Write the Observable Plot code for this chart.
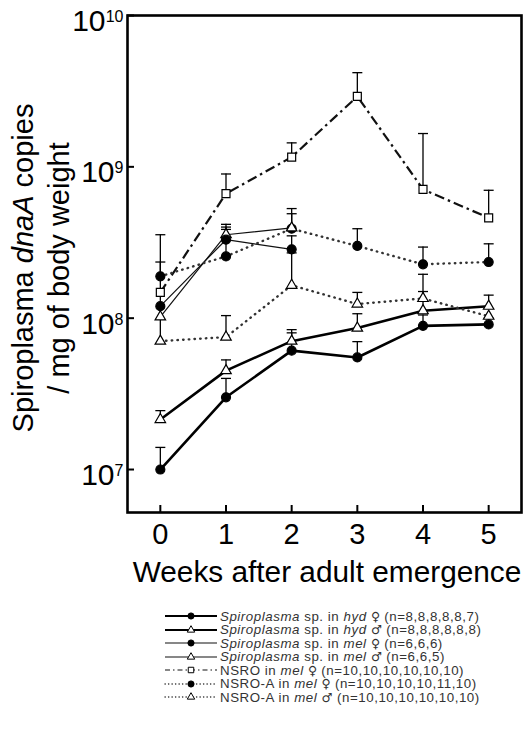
<!DOCTYPE html>
<html><head><meta charset="utf-8">
<script src="https://cdn.jsdelivr.net/npm/d3@7"></script>
<script src="https://cdn.jsdelivr.net/npm/@observablehq/plot@0.6"></script>
<style>
body{margin:0;background:#fff;font-family:"Liberation Sans",Arial,sans-serif;}
#wrap{position:relative;width:524px;height:747px;overflow:hidden;}
#chart svg{display:block;}
#legend{position:absolute;left:0;top:600px;width:524px;height:147px;}
.row{position:absolute;left:163px;height:14px;display:flex;align-items:center;font-size:13.3px;letter-spacing:0.55px;color:#333;white-space:nowrap;}
.row svg{display:block;margin-right:1px;}
.sx{font-family:"DejaVu Sans",sans-serif;font-size:12.5px;letter-spacing:0;}
</style></head><body><div id="wrap"><div id="chart"></div><div id="legend"></div></div>
<script>
// ---- data ----
const weeks = [0, 1, 2, 3, 4, 5];
const tickExps = [7, 8, 9, 10];
const yMin = 5.2e6, yMax = 1e10;

const hydF    = [1.0e7, 3.0e7, 6.1e7, 5.5e7, 8.9e7, 9.1e7];
const hydFErr = [1.4e7, 4.0e7, 8.0e7, 7.0e7, 1.05e8, 1.0e8];
const hydM    = [2.14e7, 4.5e7, 7.05e7, 8.6e7, 1.12e8, 1.2e8];
const hydMErr = [2.45e7, 5.3e7, 8.4e7, 1.07e8, 1.5e8, 1.42e8];
const melF    = [1.2e8, 3.3e8, 2.85e8];
const melFErr = [null, 4.0e8, 3.5e8];
const melM    = [1.02e8, 3.56e8, 3.95e8];
const melMErr = [null, 4.17e8, 4.9e8];
const nsro    = [1.48e8, 6.65e8, 1.16e9, 2.92e9, 7.1e8, 4.6e8];
const nsroErr = [null, 8.97e8, 1.44e9, 4.19e9, 1.66e9, 7.0e8];
const nsroAF    = [1.89e8, 2.56e8, 3.9e8, 3.0e8, 2.27e8, 2.35e8];
const nsroAFErr = [3.56e8, 3.86e8, 5.3e8, 3.9e8, 2.95e8, 3.1e8];
const nsroAM    = [7.05e7, 7.5e7, 1.65e8, 1.24e8, 1.35e8, 1.03e8];
const nsroAMErr = [2.35e8, 1.04e8, 2.7e8, 1.48e8, 1.95e8, null];

const legendLabels = [
  '<i>Spiroplasma</i> sp. in <i>hyd</i> <span class="sx">♀</span> (n=8,8,8,8,8,7)',
  '<i>Spiroplasma</i> sp. in <i>hyd</i> <span class="sx">♂</span> (n=8,8,8,8,8,8)',
  '<i>Spiroplasma</i> sp. in <i>mel</i> <span class="sx">♀</span> (n=6,6,6)',
  '<i>Spiroplasma</i> sp. in <i>mel</i> <span class="sx">♂</span> (n=6,6,5)',
  'NSRO in <i>mel</i> <span class="sx">♀</span> (n=10,10,10,10,10,10)',
  'NSRO-A in <i>mel</i> <span class="sx">♀</span> (n=10,10,10,10,11,10)',
  'NSRO-A in <i>mel</i> <span class="sx">♂</span> (n=10,10,10,10,10,10)'
];

// ---- styles ----
const series = [
  {key:"hydF", v:hydF, e:hydFErr, stroke:"#000", sw:2.6, dash:null, cap:"butt", sym:"circle", fill:"#000", lsw:2.2},
  {key:"hydM", v:hydM, e:hydMErr, stroke:"#000", sw:2.6, dash:null, cap:"butt", sym:"triangle", fill:"#fff", lsw:2.2},
  {key:"melF", v:melF, e:melFErr, stroke:"#111", sw:1.2, dash:null, cap:"butt", sym:"circle", fill:"#000", lsw:1.1},
  {key:"melM", v:melM, e:melMErr, stroke:"#111", sw:1.2, dash:null, cap:"butt", sym:"triangle", fill:"#fff", lsw:1.1},
  {key:"nsro", v:nsro, e:nsroErr, stroke:"#111", sw:2.2, dash:"10,4,2.5,4", cap:"butt", sym:"square", fill:"#fff", lsw:1.1, ldash:"5,3,1.5,3"},
  {key:"nsroAF", v:nsroAF, e:nsroAFErr, stroke:"#333", sw:2.4, dash:"0.5,5.2", cap:"round", sym:"circle", fill:"#000", lsw:1.3, ldash:"0.3,3.2"},
  {key:"nsroAM", v:nsroAM, e:nsroAMErr, stroke:"#333", sw:2.4, dash:"0.5,5.2", cap:"round", sym:"triangle", fill:"#fff", lsw:1.3, ldash:"0.3,3.2"}
];
const symR = {circle: 4.5, triangle: 3.9, square: 4.5};

const rowsOf = s => s.v.map((v, i) => ({week: weeks[i], v, e: s.e[i]}));
const capSymbol = {draw(ctx) { ctx.moveTo(-5, 0); ctx.lineTo(5, 0); }};

const lineMarks = series.map(s => Plot.line(rowsOf(s), {
  x: "week", y: "v", stroke: s.stroke, strokeWidth: s.sw,
  strokeDasharray: s.dash, strokeLinecap: s.cap
}));
const allRows = series.flatMap(s => rowsOf(s)).filter(d => d.e != null);
const errMarks = [
  Plot.ruleX(allRows, {x: "week", y1: "v", y2: "e", stroke: "#000", strokeWidth: 1.3}),
  Plot.dot(allRows, {x: "week", y: "e", symbol: capSymbol, r: 3, fill: "none", stroke: "#000", strokeWidth: 1.3})
];
const dotMarks = series.slice().reverse().map(s => Plot.dot(rowsOf(s), {
  x: "week", y: "v", symbol: s.sym, r: symR[s.sym],
  fill: s.fill, stroke: "#000", strokeWidth: 1.2
}));

const chart = Plot.plot({
  width: 524, height: 600,
  marginLeft: 127, marginRight: 3, marginTop: 15, marginBottom: 88,
  style: {fontFamily: '"Liberation Sans", Arial, sans-serif', color: "#000", background: "#fff", overflow: "visible"},
  x: {domain: [-0.5, 5.5]},
  y: {type: "log", domain: [yMin, yMax]},
  marks: [
    ...lineMarks,
    ...errMarks,
    ...dotMarks,
    Plot.axisX(weeks, {tickSize: -7, strokeWidth: 2, tickFormat: () => "", label: null}),
    Plot.axisX(weeks, {tickSize: 0, tickPadding: 11, fontSize: 29, label: null}),
    Plot.axisY(tickExps.map(e => 10 ** e), {tickSize: -7, strokeWidth: 2, tickFormat: () => "", label: null}),
    Plot.text(tickExps.filter(e => e < 10), {y: e => 10 ** e, frameAnchor: "left", text: () => "10", textAnchor: "end", dx: -13, dy: 6, fontSize: 30}),
    Plot.text(tickExps.filter(e => e >= 10), {y: e => 10 ** e, frameAnchor: "left", text: () => "10", textAnchor: "end", dx: -22, dy: 6, fontSize: 30}),
    Plot.text(tickExps, {y: e => 10 ** e, frameAnchor: "left", text: e => String(e), textAnchor: "end", dx: -4, dy: 1.5, fontSize: 16}),
    Plot.frame({stroke: "#000", strokeWidth: 2.6})
  ]
});
document.getElementById("chart").appendChild(chart);

// axis titles
const svg = d3.select(chart);
svg.append("text").attr("x", 327).attr("y", 582).attr("text-anchor", "middle")
  .attr("font-size", 29.8).attr("fill", "#000").text("Weeks after adult emergence");
const yl1 = svg.append("text").attr("transform", "translate(33,268) rotate(-90)")
  .attr("text-anchor", "middle").attr("font-size", 29).attr("fill", "#000");
yl1.append("tspan").text("Spiroplasma ");
yl1.append("tspan").attr("font-style", "italic").text("dnaA");
yl1.append("tspan").text(" copies");
svg.append("text").attr("transform", "translate(69,268) rotate(-90)")
  .attr("text-anchor", "middle").attr("font-size", 29).attr("fill", "#000")
  .text("/ mg of body weight");

// legend
const legend = d3.select("#legend");
series.forEach((s, i) => {
  const row = legend.append("div").attr("class", "row").style("top", (16 + 13.5 * i - 7) + "px");
  const ls = row.append("svg").attr("width", 56).attr("height", 14);
  ls.append("line").attr("x1", 2).attr("x2", 54).attr("y1", 7).attr("y2", 7)
    .attr("stroke", s.stroke).attr("stroke-width", s.lsw)
    .attr("stroke-dasharray", s.ldash || null).attr("stroke-linecap", s.ldash && s.cap === "round" ? "round" : "butt");
  const sym = s.sym === "circle" ? d3.symbolCircle : s.sym === "triangle" ? d3.symbolTriangle : d3.symbolSquare;
  const size = s.sym === "circle" ? 30 : s.sym === "triangle" ? 24 : 30;
  ls.append("path").attr("transform", "translate(28,7)").attr("d", d3.symbol(sym, size)())
    .attr("fill", s.fill).attr("stroke", "#000").attr("stroke-width", 1);
  row.append("span").html(legendLabels[i]);
});
</script>
</body></html>
